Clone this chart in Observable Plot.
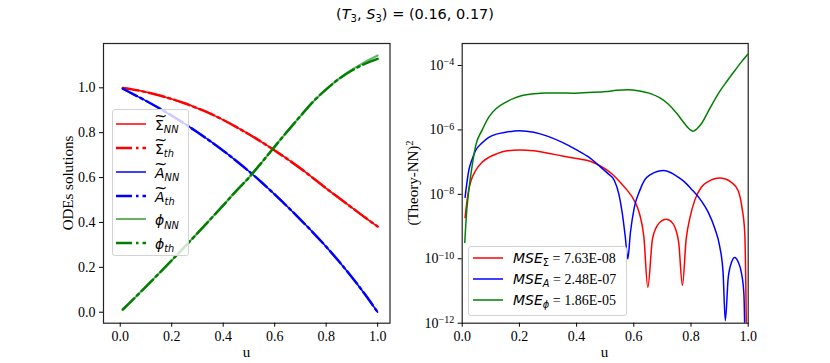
<!DOCTYPE html>
<html>
<head>
<meta charset="utf-8">
<script src="https://cdn.jsdelivr.net/npm/d3@7"></script>
<script src="https://cdn.jsdelivr.net/npm/@observablehq/plot@0.6"></script>
<style>
  body { margin: 0; background: #fff; }
  #root { position: relative; width: 830px; height: 363px; overflow: hidden; background: #fff; }
  .abs { position: absolute; }
  .serif { font-family: "Liberation Serif", "Times New Roman", serif; }
  .sans { font-family: "DejaVu Sans", sans-serif; }
  .sub { font-size: 0.7em; position: relative; top: 0.32em; }
  .sup { font-size: 0.7em; position: relative; top: -0.45em; }
  .til { position: relative; display: inline-block; }
  .til::after { content: "~"; position: absolute; left: 0; right: 0; text-align: center; top: -0.6em; font-size: 0.95em; font-style: normal; transform: scaleX(1.2); }
  .legend { position: absolute; background: rgba(255,255,255,0.8); border: 1px solid #d3d3d3; border-radius: 3px; box-sizing: border-box; }
  .lrow { position: absolute; white-space: nowrap; line-height: 1; transform: translateY(-50%); font-size: 14px; }
  svg text { font-family: "Liberation Serif", "Times New Roman", serif; }
</style>
</head>
<body>
<div id="root"></div>
<script>
// ---------------- data: left panel (ODE solutions) ----------------
const uLeft = [0.01, 0.05, 0.10, 0.15, 0.20, 0.25, 0.30, 0.35, 0.40, 0.45, 0.50,
               0.55, 0.60, 0.65, 0.70, 0.75, 0.80, 0.85, 0.90, 0.95, 1.00];
const sigmaNN = [0.999, 0.992, 0.981, 0.967, 0.950, 0.931, 0.909, 0.885, 0.857, 0.826, 0.793,
                 0.758, 0.721, 0.682, 0.641, 0.597, 0.552, 0.509, 0.466, 0.423, 0.382];
const sigmaTh = [0.999, 0.992, 0.981, 0.967, 0.950, 0.931, 0.909, 0.885, 0.857, 0.826, 0.793,
                 0.758, 0.721, 0.682, 0.641, 0.597, 0.552, 0.509, 0.466, 0.423, 0.382];
const aNN = [0.996, 0.972, 0.942, 0.910, 0.876, 0.840, 0.802, 0.762, 0.720, 0.675, 0.628,
             0.578, 0.525, 0.470, 0.413, 0.354, 0.292, 0.226, 0.156, 0.081, 0.000];
const aTh = [0.996, 0.972, 0.942, 0.910, 0.876, 0.840, 0.802, 0.762, 0.720, 0.675, 0.628,
             0.578, 0.525, 0.470, 0.413, 0.354, 0.292, 0.226, 0.156, 0.081, 0.000];
const phiNN = [0.012, 0.057, 0.114, 0.172, 0.231, 0.291, 0.352, 0.414, 0.476, 0.540, 0.600,
               0.668, 0.738, 0.807, 0.874, 0.939, 0.993, 1.041, 1.081, 1.115, 1.144];
const phiTh = [0.012, 0.057, 0.114, 0.172, 0.231, 0.291, 0.352, 0.414, 0.476, 0.540, 0.600,
               0.668, 0.738, 0.807, 0.874, 0.939, 0.993, 1.040, 1.077, 1.107, 1.129];

// ---------------- data: right panel ((Theory-NN)^2) ----------------
const uErrSigma = [0.01, 0.02, 0.03, 0.047, 0.07, 0.093, 0.12, 0.152, 0.2, 0.25, 0.3, 0.35, 0.4, 0.45, 0.5,
                   0.525, 0.55, 0.575, 0.6, 0.62, 0.635, 0.649, 0.665, 0.68, 0.697, 0.713, 0.73, 0.745, 0.757,
                   0.77, 0.783, 0.797, 0.813, 0.836, 0.86, 0.88, 0.9, 0.92, 0.94, 0.965, 0.978, 0.988, 0.996];
const errSigma = [1.9e-9, 1.0e-8, 2.5e-8, 5.5e-8, 1.0e-7, 1.4e-7, 1.8e-7, 2.2e-7, 2.4e-7, 2.25e-7, 1.9e-7, 1.55e-7, 1.3e-7, 1.05e-7, 6.2e-8,
                  4.2e-8, 2.5e-8, 1.4e-8, 6.8e-9, 2.5e-9, 5.0e-10, 1.3e-11, 4.0e-10, 1.0e-9, 1.5e-9, 1.7e-9, 1.45e-9, 8.9e-10, 3.2e-10,
                  1.5e-11, 4.0e-10, 2.0e-9, 6.5e-9, 1.66e-8, 2.5e-8, 3.0e-8, 3.2e-8, 3.0e-8, 2.4e-8, 1.3e-8, 4.0e-9, 6.3e-10, 1e-14];
const uErrA = [0.01, 0.023, 0.035, 0.047, 0.07, 0.093, 0.12, 0.152, 0.2, 0.25, 0.3, 0.35, 0.4, 0.444, 0.485,
               0.51, 0.532, 0.548, 0.56, 0.57, 0.579, 0.588, 0.602, 0.62, 0.637, 0.66, 0.685, 0.704, 0.73, 0.755,
               0.778, 0.8, 0.836, 0.86, 0.883, 0.9, 0.912, 0.92, 0.93, 0.942, 0.953, 0.965, 0.977, 0.985, 0.991];
const errA = [8.1e-9, 5.5e-8, 1.26e-7, 2.3e-7, 4.0e-7, 5.9e-7, 7.4e-7, 8.5e-7, 9.5e-7, 8.5e-7, 6.3e-7, 4.1e-7, 2.4e-7, 1.4e-7, 6.9e-8,
              4.4e-8, 2.7e-8, 1.0e-8, 2.5e-9, 5.0e-10, 1.0e-10, 6.3e-10, 4.0e-9, 1.26e-8, 2.7e-8, 4.2e-8, 5.2e-8, 5.5e-8, 4.7e-8, 3.4e-8,
              2.4e-8, 1.5e-8, 6.3e-9, 2.8e-9, 8.9e-10, 2.5e-10, 4.0e-11, 1.2e-12, 2.5e-11, 7.9e-11, 1.1e-10, 7.9e-11, 3.4e-11, 7.9e-12, 1e-14];
const uErrPhi = [0.009, 0.015, 0.023, 0.035, 0.047, 0.07, 0.093, 0.12, 0.152, 0.18, 0.21, 0.25, 0.292, 0.34, 0.386,
                 0.44, 0.503, 0.54, 0.579, 0.62, 0.661, 0.69, 0.719, 0.75, 0.778, 0.795, 0.807, 0.82, 0.836, 0.865,
                 0.895, 0.925, 0.953, 0.977, 1.0];
const errPhi = [3.2e-10, 2.5e-9, 1.3e-8, 7.9e-8, 3.2e-7, 1.0e-6, 2.5e-6, 4.7e-6, 7.2e-6, 9.5e-6, 1.17e-5, 1.32e-5, 1.41e-5, 1.41e-5, 1.38e-5,
                1.45e-5, 1.55e-5, 1.7e-5, 1.78e-5, 1.62e-5, 1.32e-5, 1.0e-5, 6.5e-6, 3.3e-6, 1.55e-6, 1.05e-6, 9.1e-7, 1.07e-6, 1.55e-6, 4.5e-6,
                1.32e-5, 3.2e-5, 6.9e-5, 1.32e-4, 2.3e-4];

// ---------------- text ----------------
const titleHTML = '(<i>T</i><span class="sub">3</span>, <i>S</i><span class="sub">3</span>) = (0.16, 0.17)';
const xTicks = [0, 0.2, 0.4, 0.6, 0.8, 1.0];
const yTicksLeft = [0, 0.2, 0.4, 0.6, 0.8, 1.0];
const yTicksRight = [1e-12, 1e-10, 1e-8, 1e-6, 1e-4];
const leftLegendLabels = [
  '<span class="sans"><span class="til">&Sigma;</span><i class="sub">NN</i></span>',
  '<span class="sans"><span class="til">&Sigma;</span><i class="sub">th</i></span>',
  '<span class="sans"><i class="til">A</i><i class="sub">NN</i></span>',
  '<span class="sans"><i class="til">A</i><i class="sub">th</i></span>',
  '<span class="sans"><i>&#981;</i><i class="sub">NN</i></span>',
  '<span class="sans"><i>&#981;</i><i class="sub">th</i></span>'
];
const mseSubs = ['&Sigma;', '<i>A</i>', '<i>&#981;</i>'];
const mseValues = ['7.63E-08', '2.48E-07', '1.86E-05'];

// ---------------- styles ----------------
const RED = "#ff0000", BLUE = "#0000ff", GREEN = "#008000";
const DASHDOT = "16,4,2.5,4";
const leftSeries = [
  {y: sigmaNN, color: RED,   width: 1.5, dash: null,    opacity: 1},
  {y: sigmaTh, color: RED,   width: 2.5, dash: DASHDOT, opacity: 1},
  {y: aNN,     color: BLUE,  width: 1.5, dash: null,    opacity: 1},
  {y: aTh,     color: BLUE,  width: 2.5, dash: DASHDOT, opacity: 1},
  {y: phiNN,   color: GREEN, width: 2,   dash: null,    opacity: 0.6},
  {y: phiTh,   color: GREEN, width: 2.5, dash: DASHDOT, opacity: 1}
];
const rightSeries = [
  {u: uErrSigma, y: errSigma, color: RED},
  {u: uErrA,     y: errA,     color: BLUE},
  {u: uErrPhi,   y: errPhi,   color: GREEN}
];

const root = document.getElementById("root");
const FONT = "Liberation Serif";
const TICKFONT = 14;

function serifize(svg) {
  svg.style.fontFamily = FONT;
  svg.setAttribute("font-family", FONT);
  d3.select(svg).selectAll("g").attr("font-family", FONT);
  d3.select(svg).selectAll("text").attr("font-family", FONT).style("font-family", FONT);
}
const axisOpts = {tickSize: 4, tickPadding: 4, label: null, fontSize: TICKFONT, fontFamily: FONT};

// ---------------- left plot ----------------
const leftMarks = leftSeries.map(s => Plot.line(uLeft.map((u, i) => ({u, v: s.y[i]})), {
  x: "u", y: "v", stroke: s.color, strokeWidth: s.width,
  strokeDasharray: s.dash, strokeOpacity: s.opacity, curve: "catmull-rom"
}));
const left = Plot.plot({
  width: 400, height: 363,
  marginLeft: 103, marginRight: 10.5, marginTop: 43, marginBottom: 40.3,
  x: {domain: [-0.065, 1.048], label: null},
  y: {domain: [-0.049, 1.1975], label: null},
  style: {fontSize: TICKFONT + "px", fontFamily: FONT, background: "transparent", color: "black"},
  marks: [
    ...leftMarks,
    Plot.frame({stroke: "#222", strokeWidth: 1.2}),
    Plot.axisX({ticks: xTicks, tickFormat: d3.format(".1f"), ...axisOpts}),
    Plot.axisY({ticks: yTicksLeft, tickFormat: d3.format(".1f"), ...axisOpts})
  ]
});
left.style.position = "absolute"; left.style.left = "0px"; left.style.top = "0px";
serifize(left);
root.appendChild(left);

// ---------------- right plot ----------------
const rightMarks = rightSeries.map(s => Plot.line(s.u.map((u, i) => ({u, e: s.y[i]})), {
  x: "u", y: "e", stroke: s.color, strokeWidth: 1.5, curve: "monotone-x", clip: true
}));
const right = Plot.plot({
  width: 430, height: 363,
  marginLeft: 61.7, marginRight: 82.3, marginTop: 43, marginBottom: 40.3,
  x: {domain: [0, 1], label: null},
  y: {type: "log", domain: [1e-12, 4.82e-4], label: null},
  style: {fontSize: TICKFONT + "px", fontFamily: FONT, background: "transparent", color: "black"},
  marks: [
    ...rightMarks,
    Plot.frame({stroke: "#222", strokeWidth: 1.2}),
    Plot.axisX({ticks: xTicks, tickFormat: d3.format(".1f"), ...axisOpts}),
    Plot.axisY({ticks: yTicksRight, tickFormat: d => "10^\u2212" + Math.abs(Math.round(Math.log10(d))), ...axisOpts})
  ]
});
right.style.position = "absolute"; right.style.left = "400px"; right.style.top = "0px";
serifize(right);
root.appendChild(right);
d3.select(right).selectAll("text").each(function() {
  const t = this.textContent;
  const m = t.match(/^10\^(.*)$/);
  if (m) {
    const s = d3.select(this);
    s.text(null);
    s.append("tspan").text("10");
    s.append("tspan").attr("dy", "-0.45em").attr("font-size", "10px").text(m[1]);
  }
});

// ---------------- html text ----------------
function addDiv(html, css, cls) {
  const d = document.createElement("div");
  d.className = "abs " + (cls || "");
  d.innerHTML = html;
  Object.assign(d.style, css);
  root.appendChild(d);
  return d;
}
addDiv(titleHTML, {left: "415px", top: "14px", transform: "translate(-50%,-50%)", fontSize: "14.5px", whiteSpace: "nowrap", lineHeight: "1"}, "sans");
addDiv("u", {left: "246.5px", top: "351.5px", transform: "translate(-50%,-50%)", fontSize: "15px", lineHeight: "1"}, "serif");
addDiv("u", {left: "604.5px", top: "351.5px", transform: "translate(-50%,-50%)", fontSize: "15px", lineHeight: "1"}, "serif");
addDiv("ODEs solutions", {left: "68px", top: "183px", transform: "translate(-50%,-50%) rotate(-90deg)", fontSize: "15px", whiteSpace: "nowrap", lineHeight: "1"}, "serif");
addDiv('(Theory-NN)<span class="sup">2</span>', {left: "413px", top: "183px", transform: "translate(-50%,-50%) rotate(-90deg)", fontSize: "15px", whiteSpace: "nowrap", lineHeight: "1"}, "serif");

function handle(x1, x2, y, color, width, dash, opacity) {
  const w = x2 - x1;
  const svg = `<svg width="${w}" height="10" style="position:absolute;left:${x1}px;top:${y - 5}px;overflow:visible">
    <line x1="0" x2="${w}" y1="5" y2="5" stroke="${color}" stroke-width="${width}" ${dash ? `stroke-dasharray="${dash}"` : ""} stroke-opacity="${opacity}"/></svg>`;
  root.insertAdjacentHTML("beforeend", svg);
}

// left legend
addDiv("", {left: "111.5px", top: "109px", width: "77px", height: "147px"}, "legend");
const leftRows = [124, 147.9, 171.7, 195.6, 219.4, 243.3];
leftSeries.forEach((s, i) => {
  handle(116, 146, leftRows[i], s.color, s.width, s.dash, s.opacity);
  addDiv(leftLegendLabels[i], {left: "155px", top: (leftRows[i] + 1) + "px"}, "lrow");
});

// right legend
addDiv("", {left: "468px", top: "245.5px", width: "159px", height: "70px"}, "legend");
const rightRows = [258.3, 279, 300];
rightSeries.forEach((s, i) => {
  handle(473, 503, rightRows[i], s.color, 1.5, null, 1);
  addDiv(`<span class="sans"><i>MSE</i><span class="sub">${mseSubs[i]}</span></span><span class="serif"> = ${mseValues[i]}</span>`,
         {left: "513px", top: rightRows[i] + "px"}, "lrow");
});
</script>
</body>
</html>
